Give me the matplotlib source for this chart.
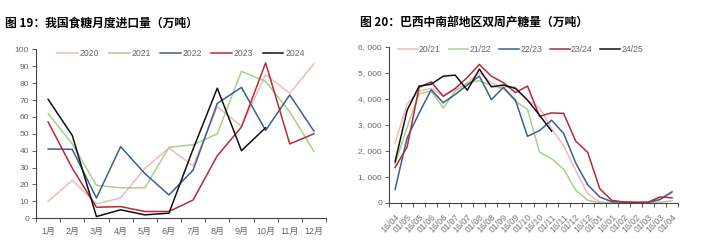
import matplotlib
matplotlib.use("Agg")
import matplotlib.pyplot as plt
from matplotlib.ticker import FuncFormatter
import numpy as np

plt.rcParams['font.family'] = ['Liberation Sans', 'Noto Sans CJK SC', 'DejaVu Sans']

# 图19 数据：月度进口量（万吨）
months = ['1月', '2月', '3月', '4月', '5月', '6月', '7月', '8月', '9月', '10月', '11月', '12月']
imp_2020 = [10, 22.5, 8.5, 12, 29.5, 41.5, 31, 66, 54.5, 85, 74, 91.5]
imp_2021 = [62, 44, 19.5, 18, 18, 42, 43.5, 50, 87, 81, 63, 39.5]
imp_2022 = [41, 40.8, 12, 42.4, 26.5, 13.8, 28.5, 68, 77.5, 52, 73, 51.6]
imp_2023 = [57, 29.6, 6.5, 6.9, 4, 4, 10.8, 37, 54, 92, 44, 50]
imp_2024 = [70.4, 49, 1, 5, 2, 3, 41, 77, 40, 53.6]

# 图20 数据：双周产糖量（万吨）
periods = ['16/04', '01/05', '16/05', '01/06', '16/06', '01/07', '16/07', '01/08',
           '16/08', '01/09', '16/09', '01/10', '16/10', '01/11', '16/11', '01/12',
           '16/12', '01/01', '16/01', '01/02', '16/02', '01/03', '16/03', '01/04']
prod_2021 = [2300, 3800, 4300, 4400, 4100, 4350, 4600, 5000, 4600, 4450, 4450, 3950,
             3650, 2850, 2200, 1250, 350, 40, 10, 5, 5, 10, 150, 450]
prod_2122 = [1500, 2900, 4200, 4300, 3650, 4300, 4600, 4700, 4500, 4400, 3900, 3600,
             1950, 1700, 1300, 500, 100, 10, 5, 5, 5, 5, 30, 80]
prod_2223 = [520, 2500, 3450, 4350, 3850, 4170, 4530, 4870, 3970, 4440, 3950, 2560,
             2780, 3180, 2670, 1540, 700, 230, 50, 30, 20, 20, 130, 420]
prod_2324 = [1360, 2150, 4440, 4650, 4100, 4400, 4820, 5320, 4870, 4620, 4240, 4490,
             3330, 3460, 3440, 2380, 1940, 550, 100, 40, 30, 30, 230, 200]
prod_2425 = [1580, 3560, 4490, 4560, 4870, 4910, 4330, 5140, 4460, 4530, 4400, 3950,
             3370, 2760]

c_pink = '#F2B9B9'
c_green = '#A8CF8C'
c_blue = '#3C5F8E'
c_red = '#B52A3C'
c_black = '#111111'
gray = '#666666'

fig = plt.figure(figsize=(7.25, 2.48), dpi=100)

fig.text(0.007, 0.907, '图 19：我国食糖月度进口量（万吨）', fontsize=8.5, fontweight='bold',
         va='center', family=['Noto Sans CJK SC'])
fig.text(0.497, 0.907, '图 20：巴西中南部地区双周产糖量（万吨）', fontsize=8.5, fontweight='bold',
         va='center', family=['Noto Sans CJK SC'])


def style_axes(ax):
    for s in ['top', 'right']:
        ax.spines[s].set_visible(False)
    for s in ['left', 'bottom']:
        ax.spines[s].set_color('#444444')
        ax.spines[s].set_linewidth(0.8)
    ax.tick_params(axis='y', direction='out', length=3, width=0.6, colors='#444444',
                   labelcolor=gray, labelsize=6, pad=2)


# 左图
ax1 = fig.add_axes([0.0497, 0.12, 0.40, 0.681])
x1 = np.arange(len(months))
ax1.plot(x1, imp_2020, color=c_pink, lw=1.1, label='2020')
ax1.plot(x1, imp_2021, color=c_green, lw=1.1, label='2021')
ax1.plot(x1, imp_2022, color=c_blue, lw=1.1, label='2022')
ax1.plot(x1, imp_2023, color=c_red, lw=1.1, label='2023')
ax1.plot(x1[:len(imp_2024)], imp_2024, color=c_black, lw=1.1, label='2024')
ax1.set_xlim(-0.5, len(months) - 0.5)
ax1.set_ylim(0, 100)
ax1.set_yticks(np.arange(0, 101, 10))
ax1.set_xticks(x1)
ax1.set_xticklabels(months)
ax1.set_xticks(np.arange(-0.5, len(months), 1), minor=True)
style_axes(ax1)
ax1.tick_params(axis='x', which='major', length=0, labelcolor=gray, labelsize=6.5, pad=6)
ax1.tick_params(axis='x', which='minor', direction='out', length=3, width=0.6, colors='#444444')
ax1.legend(loc='upper center', bbox_to_anchor=(0.5, 1.05), ncol=5, frameon=False,
           fontsize=6.2, handlelength=2.4, handletextpad=0.2, columnspacing=1.1,
           labelcolor=gray)

# 右图
ax2 = fig.add_axes([0.5366, 0.1815, 0.3986, 0.630])
x2 = np.arange(len(periods))
ax2.plot(x2, prod_2021, color=c_pink, lw=1.1, label='20/21')
ax2.plot(x2, prod_2122, color=c_green, lw=1.1, label='21/22')
ax2.plot(x2, prod_2223, color=c_blue, lw=1.1, label='22/23')
ax2.plot(x2, prod_2324, color=c_red, lw=1.1, label='23/24')
ax2.plot(x2[:len(prod_2425)], prod_2425, color=c_black, lw=1.1, label='24/25')
ax2.set_xlim(-0.5, len(periods) - 0.5)
ax2.set_ylim(0, 6000)
ax2.set_yticks(np.arange(0, 6001, 1000))
ax2.yaxis.set_major_formatter(FuncFormatter(lambda v, p: '0' if v == 0 else f'{int(v):,}'.replace(',', ', ')))
ax2.set_xticks(x2)
ax2.set_xticklabels(periods, rotation=45, ha='right', rotation_mode='anchor')
ax2.set_xticks(np.arange(-0.5, len(periods), 1), minor=True)
style_axes(ax2)
ax2.tick_params(axis='x', which='major', length=0, labelcolor='#777777', labelsize=6.3, pad=7)
ax2.tick_params(axis='x', which='minor', direction='out', length=3, width=0.6, colors='#444444')
ax2.legend(loc='upper center', bbox_to_anchor=(0.455, 1.06), ncol=5, frameon=False,
           fontsize=6.2, handlelength=2.3, handletextpad=0.15, columnspacing=0.9,
           labelcolor=gray)

fig.savefig('out.png', dpi=100)
